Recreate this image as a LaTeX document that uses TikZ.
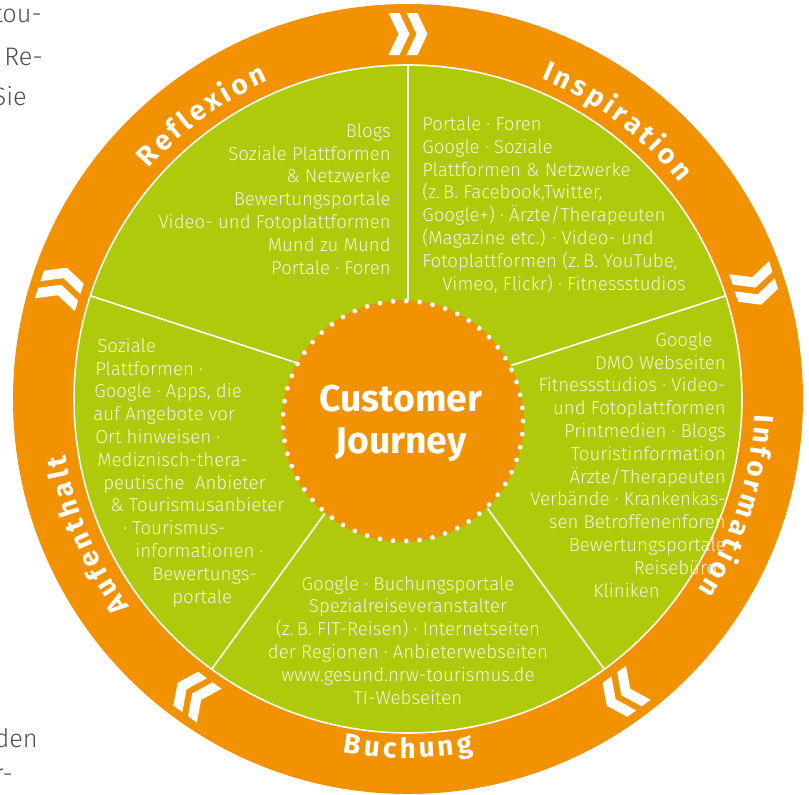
\documentclass[tikz,border=0pt]{standalone}
\usepackage{fontspec}
\setmainfont{Fira Sans}
\newfontfamily\bodyfont{Fira Sans Light}
\newfontfamily\ringfont{Fira Sans Bold}
\usetikzlibrary{decorations.text}

\definecolor{cjorange}{RGB}{243,146,0}
\definecolor{cjgreen}{RGB}{175,202,11}
\definecolor{cjtext}{RGB}{244,247,222}
\definecolor{pagegray}{RGB}{80,80,80}

\tikzset{
  chevrons/.pic={
    \foreach \dx in {-9,9}
      \fill[white, shift={(\dx,0)}] (-10.5,21) -- (0.5,21) -- (10.5,0) -- (0.5,-21) -- (-10.5,-21) -- (-0.5,0) -- cycle;
  }
}

\begin{document}
\begin{tikzpicture}[
  x=0.75pt, y=0.75pt,
  body/.style={font=\bodyfont\fontsize{14}{17.1}\selectfont, text=cjtext, inner sep=0pt},
  pagetext/.style={font=\bodyfont\fontsize{19}{19}\selectfont, text=pagegray, inner sep=0pt},
  divider/.style={white, line width=1.2pt},
  ringlabel/.style={decorate, decoration={text effects along path, text align=center,
    text effects/.cd, text along path,
    characters={font=\ringfont\fontsize{21}{21}\selectfont, text=white, inner sep=0pt},
    character widths={font=\ringfont\fontsize{21}{21}\selectfont, inner xsep=1.3pt}}}
]
\useasboundingbox (-408,-395) rectangle (401,399);
\coordinate (c) at (0,0);

% ring and disc
\fill[cjorange] (c) circle[radius=395];
\fill[cjgreen] (c) circle[radius=334];
\draw[divider] (c) circle[radius=334];
\foreach \a in {90,162,234,306,18}
  \draw[divider] (c) -- (\a:334);

% phase arrows
\foreach \a in {90,162,234,306,18}
  \pic[rotate=\a-90] at (\a:365) {chevrons};

% phase names
\path[ringlabel, decoration={text={Inspiration}}]
  (90:347) arc[start angle=90, end angle=16, radius=347];
\path[ringlabel, decoration={text={Information}}]
  (19:347) arc[start angle=19, end angle=-55, radius=347];
\path[ringlabel, decoration={text={Buchung}}]
  (234:359) arc[start angle=234, end angle=306, radius=359];
\path[ringlabel, decoration={text={Aufenthalt}}]
  (240:347) arc[start angle=240, end angle=166, radius=347];
\path[ringlabel, decoration={text={Reflexion}}]
  (163:347) arc[start angle=163, end angle=89, radius=347];

% centre
\node[circle, fill=cjorange, minimum size=181.5pt, inner sep=0pt] (cj) at (-5,-22) {};
\begin{scope}[shift={(-5,-22)}]
  \foreach \i in {0,...,56}
    \fill[white] (6.3158*\i:120) circle[radius=2.4];
\end{scope}
\node[font=\bfseries\fontsize{28}{31.5}\selectfont, text=white, align=center] (cjlabel) at (-7,-24) {Customer\\Journey};

% channels per phase
\node[body, align=right, anchor=base east] (reflexion) at (-17,125)
  {Blogs\\Soziale Plattformen\\\& Netzwerke\\Bewertungsportale\\Video- und Fotoplattformen\\Mund zu Mund\\Portale · Foren};
\node[body, align=left, anchor=base west] (inspiration) at (14,109)
  {Portale · Foren\\Google · Soziale\\Plattformen \& Netzwerke\\(z.\,B. Facebook,Twitter,\\Google+) · Ärzte/Therapeuten\\(Magazine etc.) · Video- und\\Fotoplattformen (z.\,B. YouTube,\\\hspace*{15pt}Vimeo, Flickr) · Fitnessstudios};
\node[body, align=right, anchor=base east] (information) at (318,-198)
  {Google\hspace*{9.75pt}\\DMO Webseiten\hspace*{5.25pt}\\Fitnessstudios · Video-\hspace*{6.75pt}\\und Fotoplattformen\\Printmedien · Blogs\\Touristinformation\hspace*{1.5pt}\\Ärzte/Therapeuten\hspace*{4.5pt}\\Verbände · Krankenkas-\hspace*{14.25pt}\\sen Betroffenenforen\hspace*{17.25pt}\\Bewertungsportale\hspace*{25.5pt}\\Reisebüros\hspace*{36.75pt}\\Kliniken\hspace*{49.5pt}};
\node[body, align=center, anchor=base] (buchung) at (0,-305)
  {Google · Buchungsportale\\Spezialreiseveranstalter\\(z.\,B. FIT-Reisen) · Internetseiten\\der Regionen · Anbieterwebseiten\\www.gesund.nrw-tourismus.de\\TI-Webseiten};
\node[body, align=left, anchor=base west] (aufenthalt) at (-315,-204)
  {\hspace*{3pt}Soziale\\\hspace*{1.5pt}Plattformen ·\\\hspace*{0.75pt}Google · Apps, die\\auf Angebote vor\\\hspace*{1.5pt}Ort hinweisen ·\\\hspace*{3pt}Mediznisch-thera-\\\hspace*{7.5pt}peutische\ \ Anbieter\\\hspace*{12.75pt}\& Tourismusanbieter\\\hspace*{22.5pt}· Tourismus-\\\hspace*{31.5pt}informationen ·\\\hspace*{44.25pt}Bewertungs-\\\hspace*{59.25pt}portale};

% surrounding page text
\node[pagetext, anchor=base east] (frag1) at (-366,377) {tou-};
\node[pagetext, anchor=base east] (frag2) at (-365,334) {Re-};
\node[pagetext, anchor=base east] (frag3) at (-381,294) {Sie};
\node[pagetext, anchor=base east] (frag4) at (-370,-348) {den};
\node[pagetext, anchor=base east] (frag5) at (-395,-383) {r-};
\end{tikzpicture}
\end{document}
